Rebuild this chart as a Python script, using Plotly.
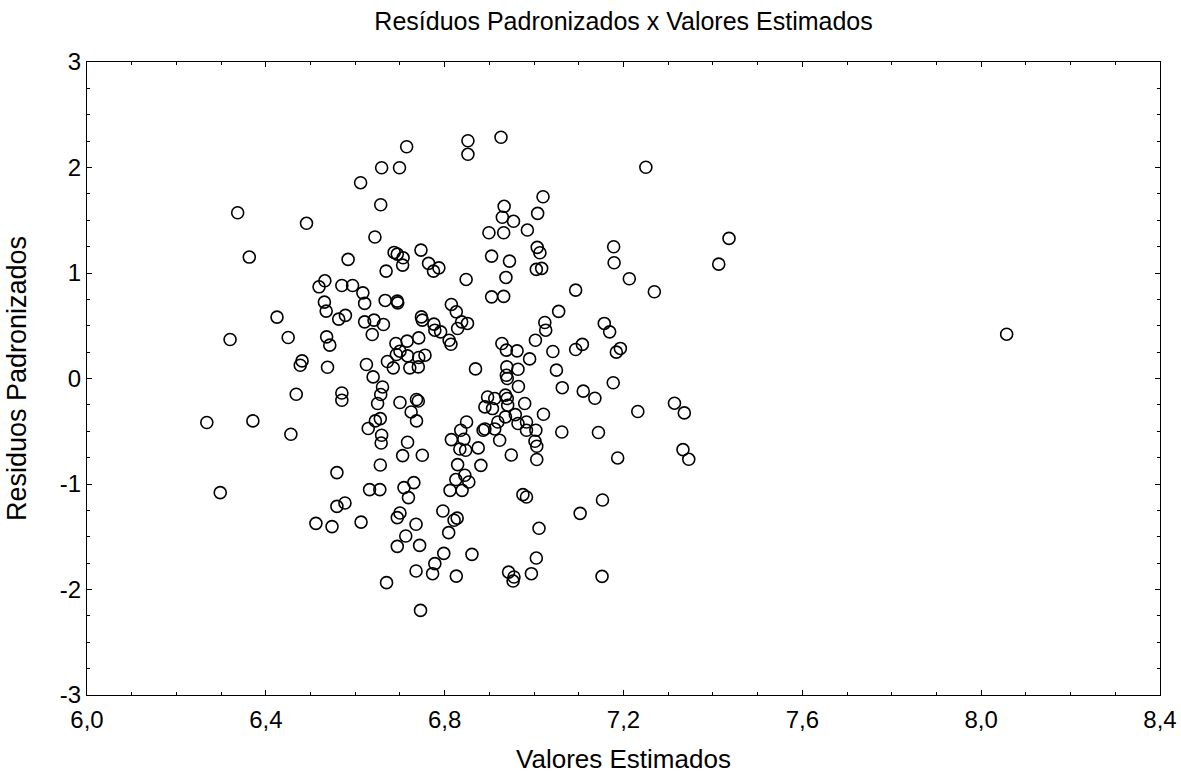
import plotly.graph_objects as go

# Valores Estimados (x) and Resíduos Padronizados (y)
valores_estimados = [
    6.612, 6.337, 6.491, 6.363, 6.584, 6.532, 6.519, 6.570, 6.594, 6.617,
    6.531, 6.621, 6.535, 6.578, 6.563, 6.425, 6.621, 6.320, 6.450, 6.536,
    6.543, 6.481, 6.477, 6.538, 6.625, 6.468, 6.570, 6.570, 6.268, 6.371,
    6.456, 6.559, 6.298, 6.559, 6.577, 6.512, 6.548, 6.613, 6.715, 6.852,
    6.852, 6.926, 6.659, 6.699, 6.657, 6.933, 6.929, 6.954, 6.899, 6.932,
    6.985, 6.644, 6.747, 6.687, 6.694, 6.707, 6.706, 6.764, 6.787, 6.775,
    6.669, 6.905, 6.945, 6.848, 6.937, 6.905, 6.932, 6.667, 6.694, 6.695,
    6.815, 6.826, 6.838, 6.851, 6.829, 6.748, 6.750, 6.776, 6.791, 6.778,
    6.642, 6.663, 6.638, 6.742, 6.716, 6.691, 6.700, 6.692, 6.717, 6.742,
    6.756, 6.810, 6.814, 6.928, 6.938, 6.962, 6.990, 7.003, 6.672, 6.685,
    6.722, 6.741, 6.869, 6.939, 6.964, 6.938, 6.640, 6.940, 6.661, 6.657,
    6.650, 6.700, 6.737, 6.741, 6.725, 6.737, 6.656, 6.645, 6.629, 6.659,
    6.658, 6.717, 6.706, 6.750, 6.656, 6.632, 6.655, 6.709, 6.731, 6.719,
    6.700, 6.694, 6.736, 6.713, 6.694, 6.744, 6.670, 6.736, 6.773, 6.778,
    6.798, 6.826, 6.861, 6.746, 6.796, 6.821, 6.828, 6.809, 6.849, 6.836,
    6.815, 6.843, 6.834, 6.847, 6.875, 6.881, 6.829, 6.845, 6.825, 6.854,
    6.812, 6.839, 6.896, 6.912, 6.936, 6.940, 6.941, 6.890, 6.907, 6.979,
    6.936, 6.958, 6.919, 6.886, 6.890, 6.912, 6.983, 6.964, 6.983, 7.004,
    7.021, 6.923, 7.002, 7.006, 7.006, 6.949, 6.975, 6.983, 7.011, 7.005,
    6.994, 6.943, 6.955, 6.953, 6.965, 7.250, 7.020, 7.008, 7.007, 7.013,
    7.005, 7.017, 7.178, 7.179, 7.213, 7.269, 7.413, 7.436, 7.093, 7.055,
    7.024, 7.026, 7.042, 7.050, 7.063, 7.108, 7.093, 7.157, 7.169, 7.193,
    7.184, 7.177, 7.110, 7.136, 7.232, 7.314, 7.336, 7.062, 7.144, 7.187,
    7.333, 7.346, 7.153, 7.103, 7.152, 8.057,
]

residuos_padronizados = [
    1.856, 1.571, 1.471, 1.151, 1.129, 0.926, 0.869, 0.882, 0.882, 0.812,
    0.724, 0.712, 0.639, 0.598, 0.563, 0.582, 0.537, 0.370, 0.389, 0.395,
    0.316, 0.167, 0.126, 0.107, 0.133, -0.149, -0.137, -0.206, -0.417, -0.402,
    -0.528, -0.892, -1.082, -1.212, -1.180, -1.373, -1.404, -1.361, 2.197, 2.254,
    2.125, 2.287, 1.998, 1.998, 1.647, 1.632, 1.528, 1.490, 1.381, 1.381,
    1.407, 1.341, 1.217, 1.195, 1.179, 1.144, 1.075, 1.091, 1.049, 1.018,
    1.018, 1.160, 1.113, 0.939, 0.958, 0.774, 0.778, 0.740, 0.733, 0.717,
    0.702, 0.632, 0.537, 0.522, 0.474, 0.584, 0.553, 0.515, 0.442, 0.458,
    0.553, 0.512, 0.417, 0.385, 0.354, 0.332, 0.259, 0.228, 0.214, 0.199,
    0.221, 0.363, 0.325, 0.332, 0.269, 0.262, 0.186, 0.363, 0.161, 0.101,
    0.101, 0.110, 0.091, 0.110, 0.088, 0.031, 0.015, 0.000, -0.080, -0.152,
    -0.237, -0.228, -0.199, -0.213, -0.317, -0.402, -0.380, -0.402, -0.474, -0.538,
    -0.611, -0.604, -0.731, -0.728, -0.820, -1.053, -1.053, -1.034, -0.987, -1.129,
    -1.275, -1.319, -1.382, -1.493, -1.591, -1.582, -1.935, -1.825, -1.850, -1.755,
    -1.658, -1.873, -1.667, -2.198, -1.256, -1.344, -1.323, -1.461, -0.412, -0.491,
    -0.579, -0.576, -0.668, -0.680, -0.658, -0.823, -0.816, -0.917, -0.958, -0.981,
    -1.060, -1.060, -0.175, -0.190, -0.158, -0.190, -0.253, -0.269, -0.285, -0.237,
    -0.364, -0.342, -0.412, -0.491, -0.478, -0.478, -0.412, -0.427, -0.491, -0.491,
    -0.339, -0.585, -0.595, -0.642, -0.768, -0.725, -1.101, -1.123, -1.420, -1.702,
    -1.850, -1.835, -1.882, -1.920, -0.076, 2.002, 1.723, 1.565, 1.243, 1.192,
    1.034, 1.044, 1.249, 1.097, 0.945, 0.822, 1.084, 1.328, 0.838, 0.636,
    0.531, 0.458, 0.256, 0.079, -0.087, 0.323, 0.275, 0.522, 0.442, 0.285,
    0.250, -0.040, -0.120, -0.187, -0.313, -0.234, -0.326, -0.507, -0.512, -0.753,
    -0.674, -0.766, -1.152, -1.278, -1.876, 0.420,
]

x_ticks = [6.0, 6.4, 6.8, 7.2, 7.6, 8.0, 8.4]
x_tick_labels = ["6,0", "6,4", "6,8", "7,2", "7,6", "8,0", "8,4"]
y_ticks = [-3, -2, -1, 0, 1, 2, 3]
y_tick_labels = ["-3", "-2", "-1", "0", "1", "2", "3"]

FONT = "Arial, Liberation Sans, sans-serif"

fig = go.Figure()
fig.add_trace(go.Scatter(
    x=valores_estimados,
    y=residuos_padronizados,
    mode="markers",
    marker=dict(symbol="circle-open", size=12, color="black",
                line=dict(width=1.6, color="black")),
    showlegend=False,
    hoverinfo="x+y",
))

axis_common = dict(
    showline=True, linecolor="black", linewidth=1.2, mirror="allticks",
    ticks="inside", ticklen=5, tickwidth=1.2, tickcolor="black",
    showgrid=False, zeroline=False, automargin=False,
    tickfont=dict(family=FONT, size=24, color="black"),
)

fig.update_xaxes(
    range=[6.0, 8.4], tickvals=x_ticks, ticktext=x_tick_labels,
    minor=dict(dtick=0.1, tick0=6.0, ticks="inside", ticklen=3, tickcolor="black", showgrid=False),
    title=dict(text="Valores Estimados", font=dict(family=FONT, size=26, color="black"), standoff=20),
    ticklabelstandoff=3,
    **axis_common,
)
fig.update_yaxes(
    range=[-3, 3], tickvals=y_ticks, ticktext=y_tick_labels,
    minor=dict(dtick=0.25, tick0=0, ticks="inside", ticklen=3, tickcolor="black", showgrid=False),
    title=dict(text="Residuos Padronizados", font=dict(family=FONT, size=27, color="black"), standoff=25),
    **axis_common,
)

fig.update_layout(
    width=1181, height=774,
    margin=dict(l=87, r=21, t=62, b=79),
    paper_bgcolor="white", plot_bgcolor="white",
    title=dict(text="Resíduos Padronizados x Valores Estimados",
               font=dict(family=FONT, size=25, color="black"),
               x=0.528, xanchor="center", y=0.972, yanchor="middle"),
    font=dict(family=FONT, color="black"),
)

fig.write_html(
    "out.html",
    config={"displayModeBar": False},
    post_script="document.body.style.margin='0px';document.body.style.overflow='hidden';",
)
